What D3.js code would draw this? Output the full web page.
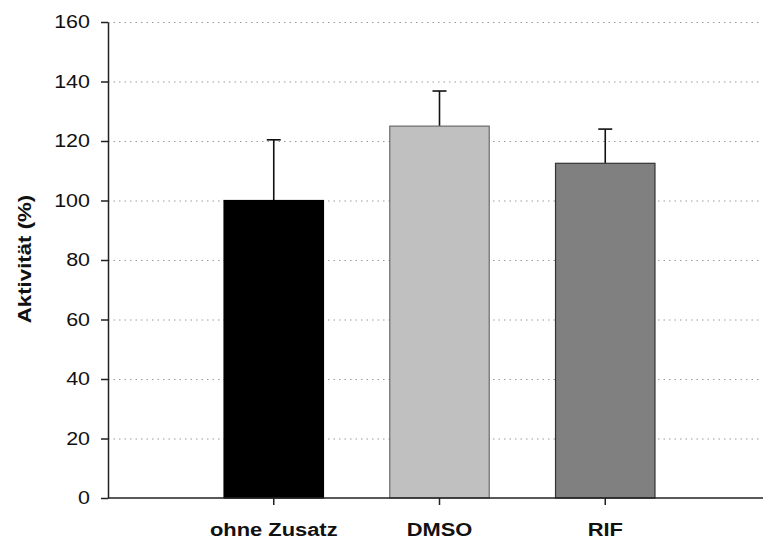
<!DOCTYPE html>
<html>
<head>
<meta charset="utf-8">
<script src="https://d3js.org/d3.v7.min.js"></script>
<style>
	body { margin: 0; background: #fff; }
	text { font-family: "Liberation Sans", Arial, sans-serif; }
</style>
</head>
<body>
<svg width="763" height="543"></svg>
<script>
var categories = ['ohne Zusatz', 'DMSO', 'RIF'];
var values = [100, 125, 112.5];
var errors = [20.4, 11.8, 11.5];
var fills = ['#000000', '#c0c0c0', '#808080'];
var strokes = ['#000000', '#6a6a6a', '#333333'];
var yTicks = [0, 20, 40, 60, 80, 100, 120, 140, 160];

var svg = d3.select('svg');
var plotLeft = 108, plotRight = 761, plotTop = 22, plotBottom = 498;

// the original font is a little wider than Liberation Sans
function stretch(sel, k) {
	sel.each(function() {
		var w = this.getComputedTextLength();
		d3.select(this)
			.attr('textLength', w * k)
			.attr('lengthAdjust', 'spacingAndGlyphs');
	});
}

var x = d3.scaleBand()
	.domain(categories)
	.range([plotLeft, 771])
	.paddingInner(0.4)
	.paddingOuter(0.7);

var y = d3.scaleLinear()
	.domain([0, 160])
	.range([plotBottom, plotTop]);

// dotted grid
svg.append('g')
	.selectAll('line')
	.data(yTicks.slice(1))
	.enter()
	.append('line')
	.attr('x1', plotLeft)
	.attr('x2', plotRight)
	.attr('y1', function(d) { return y(d) + 0.5; })
	.attr('y2', function(d) { return y(d) + 0.5; })
	.attr('stroke', '#9a9a9a')
	.attr('stroke-width', 1)
	.attr('stroke-dasharray', '1.5,4');

var data = categories.map(function(c, i) {
	return {cat: c, value: values[i], err: errors[i], fill: fills[i], stroke: strokes[i]};
});

// error bars (upper only)
var eb = svg.append('g');
eb.selectAll('line.v')
	.data(data)
	.enter()
	.append('line')
	.attr('class', 'v')
	.attr('x1', function(d) { return x(d.cat) + x.bandwidth() / 2; })
	.attr('x2', function(d) { return x(d.cat) + x.bandwidth() / 2; })
	.attr('y1', function(d) { return y(d.value); })
	.attr('y2', function(d) { return y(d.value + d.err); })
	.attr('stroke', '#111')
	.attr('stroke-width', 1.6);
eb.selectAll('line.cap')
	.data(data)
	.enter()
	.append('line')
	.attr('class', 'cap')
	.attr('x1', function(d) { return x(d.cat) + x.bandwidth() / 2 - 7; })
	.attr('x2', function(d) { return x(d.cat) + x.bandwidth() / 2 + 7; })
	.attr('y1', function(d) { return y(d.value + d.err); })
	.attr('y2', function(d) { return y(d.value + d.err); })
	.attr('stroke', '#111')
	.attr('stroke-width', 1.6);

// bars
svg.append('g')
	.selectAll('rect')
	.data(data)
	.enter()
	.append('rect')
	.attr('x', function(d) { return x(d.cat); })
	.attr('y', function(d) { return y(d.value); })
	.attr('width', x.bandwidth())
	.attr('height', function(d) { return y(0) - y(d.value); })
	.attr('fill', function(d) { return d.fill; })
	.attr('stroke', function(d) { return d.stroke; })
	.attr('stroke-width', 1.2);

// y axis
var yAxis = svg.append('g')
	.attr('transform', 'translate(' + plotLeft + ',0)')
	.call(d3.axisLeft(y).tickValues(yTicks).tickSize(7).tickPadding(11).tickSizeOuter(0));
yAxis.select('.domain').attr('stroke', '#222').attr('stroke-width', 1.5);
yAxis.selectAll('.tick line').attr('stroke', '#222').attr('stroke-width', 1.5);
yAxis.selectAll('.tick text')
	.attr('font-size', '18.5px')
	.attr('fill', '#111')
	.attr('font-family', '"Liberation Sans", Arial, sans-serif')
	.call(stretch, 1.16);

// x axis
var xAxis = svg.append('g')
	.attr('transform', 'translate(0,' + plotBottom + ')')
	.call(d3.axisBottom(x).tickSize(7).tickPadding(19).tickSizeOuter(0));
xAxis.select('.domain').attr('d', 'M' + plotLeft + ',0H' + (plotRight + 2))
	.attr('stroke', '#222').attr('stroke-width', 1.5);
xAxis.selectAll('.tick line').attr('stroke', '#222').attr('stroke-width', 1.5);
xAxis.selectAll('.tick text')
	.attr('font-size', '17.5px')
	.attr('font-weight', 'bold')
	.attr('fill', '#111')
	.attr('font-family', '"Liberation Sans", Arial, sans-serif')
	.call(stretch, 1.25);

// y label
svg.append('text')
	.attr('transform', 'translate(31,259) rotate(-90)')
	.attr('text-anchor', 'middle')
	.attr('font-size', '17.5px')
	.attr('font-weight', 'bold')
	.attr('fill', '#111')
	.text('Aktivität (%)')
	.call(stretch, 1.27);
</script>
</body>
</html>
